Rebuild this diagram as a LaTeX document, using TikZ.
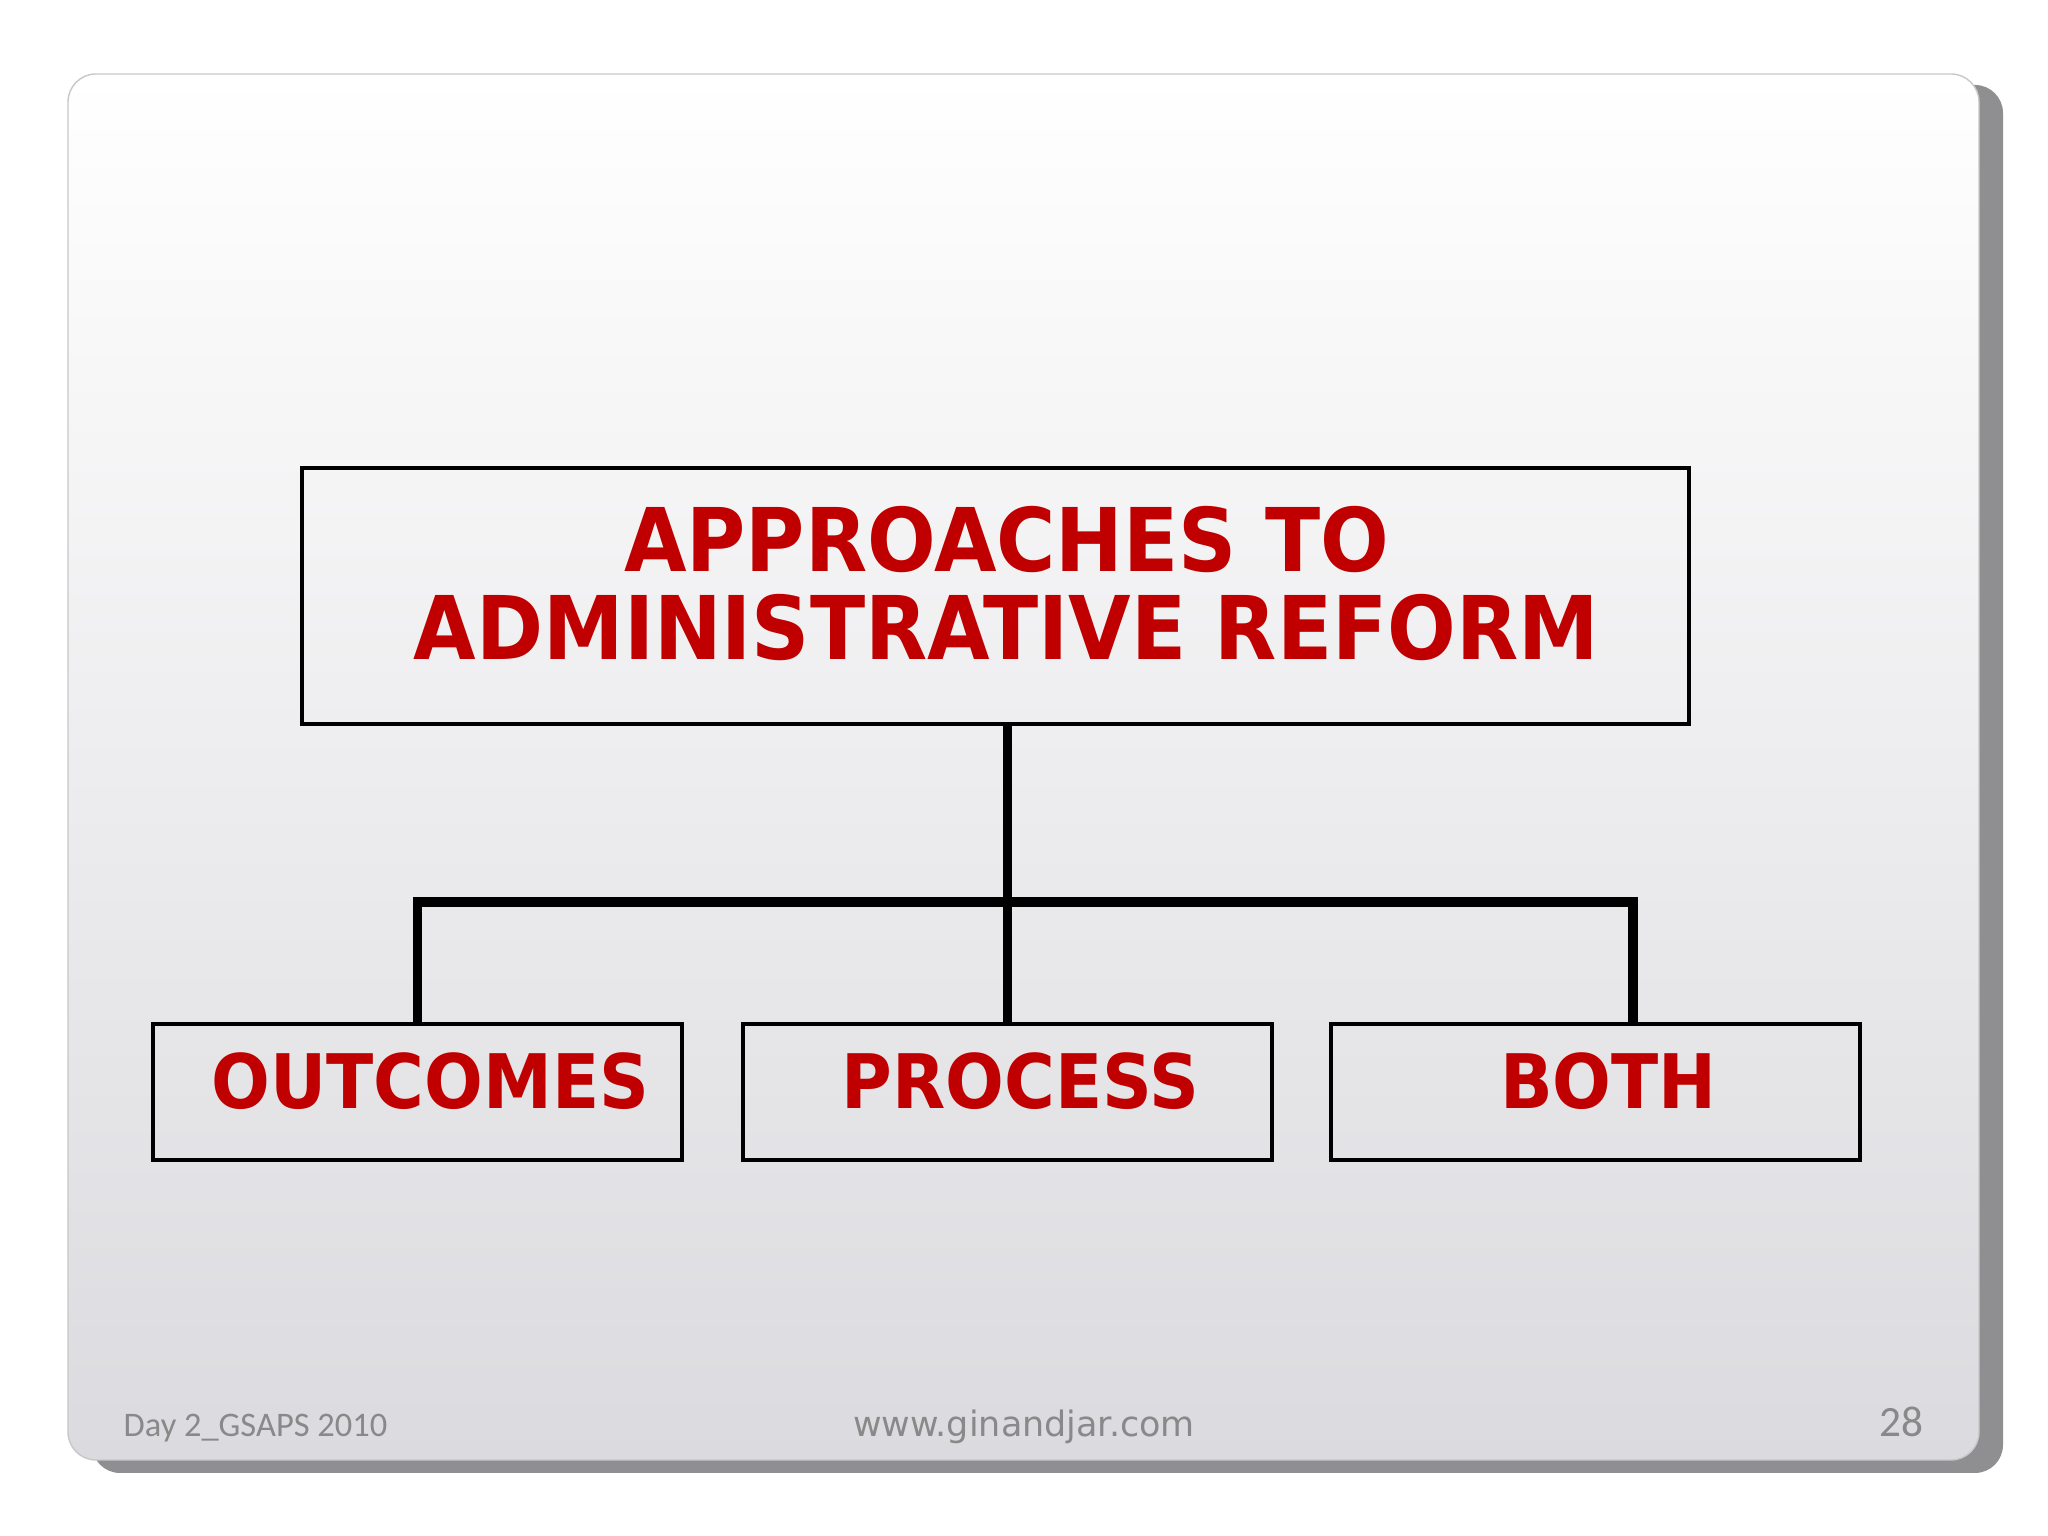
\documentclass[tikz,border=0pt]{standalone}
\usepackage{fontspec}
\newfontfamily\boxfont{DejaVu Sans}[FakeStretch=0.92]
\newfontfamily\webfont{DejaVu Sans}
\newfontfamily\footfont{Carlito}
\definecolor{reformred}{HTML}{C00000}
\definecolor{footgray}{HTML}{898989}
\definecolor{slideshadow}{HTML}{8F8E91}
\definecolor{slideedge}{HTML}{C8C8C8}
\definecolor{slidebottom}{HTML}{DBDADE}

\begin{document}
\begin{tikzpicture}[
    box/.style={draw=black, line width=0.9pt, text=reformred, align=center},
    small box/.style={box, minimum width=5.29cm, minimum height=1.36cm, text depth=0.22cm,
        font={\boxfont\bfseries\fontsize{21.4}{21.4}\selectfont},
        execute at begin node=\hspace*{0.26cm}},
    link/.style={line width=2.8pt, line join=miter},
    foot/.style={text=footgray, inner sep=0pt}]
    \useasboundingbox (0,0) rectangle (20.48,15.36);
    \fill[white] (0,0) rectangle (20.48,15.36);
    % slide with its shadow
    \fill[slideshadow, rounded corners=0.28cm] (0.92,0.63) rectangle (20.03,14.51);
    \shade[top color=white, bottom color=slidebottom, rounded corners=0.28cm]
        (0.68,0.76) rectangle (19.79,14.62);
    \draw[slideedge, line width=0.4pt, rounded corners=0.28cm]
        (0.68,0.76) rectangle (19.79,14.62);

    \node[box, minimum width=13.87cm, minimum height=2.56cm, text depth=0.26cm,
        font={\boxfont\bfseries\fontsize{25}{25}\selectfont}] (top) at (9.955,9.40)
        {\hspace*{0.22cm}APPROACHES TO\\\hspace*{0.22cm}ADMINISTRATIVE REFORM};
    \node[small box] (outcomes) at (4.175,4.44) {OUTCOMES};
    \node[small box] (process) at (10.075,4.44) {PROCESS};
    \node[small box] (both) at (15.955,4.44) {BOTH};

    \coordinate (join) at (process.north |- 0,6.34);
    \coordinate (bothtop) at ([xshift=0.375cm]both.north);
    \draw[link] (top.south -| process.north) -- (process.north);
    \draw[link] (outcomes.north) |- (join) -| (bothtop);

    \node[foot, anchor=base west, font={\footfont\fontsize{9.8}{12}\selectfont}] (day) at (1.23,0.99)
        {Day 2\_GSAPS 2010};
    \node[foot, anchor=base, font={\webfont\fontsize{9.95}{12}\selectfont}] (web) at (10.24,0.99)
        {www.ginandjar.com};
    \node[foot, anchor=base east, font={\footfont\fontsize{12.3}{12}\selectfont}] (page) at (19.24,0.99)
        {28};
\end{tikzpicture}
\end{document}
